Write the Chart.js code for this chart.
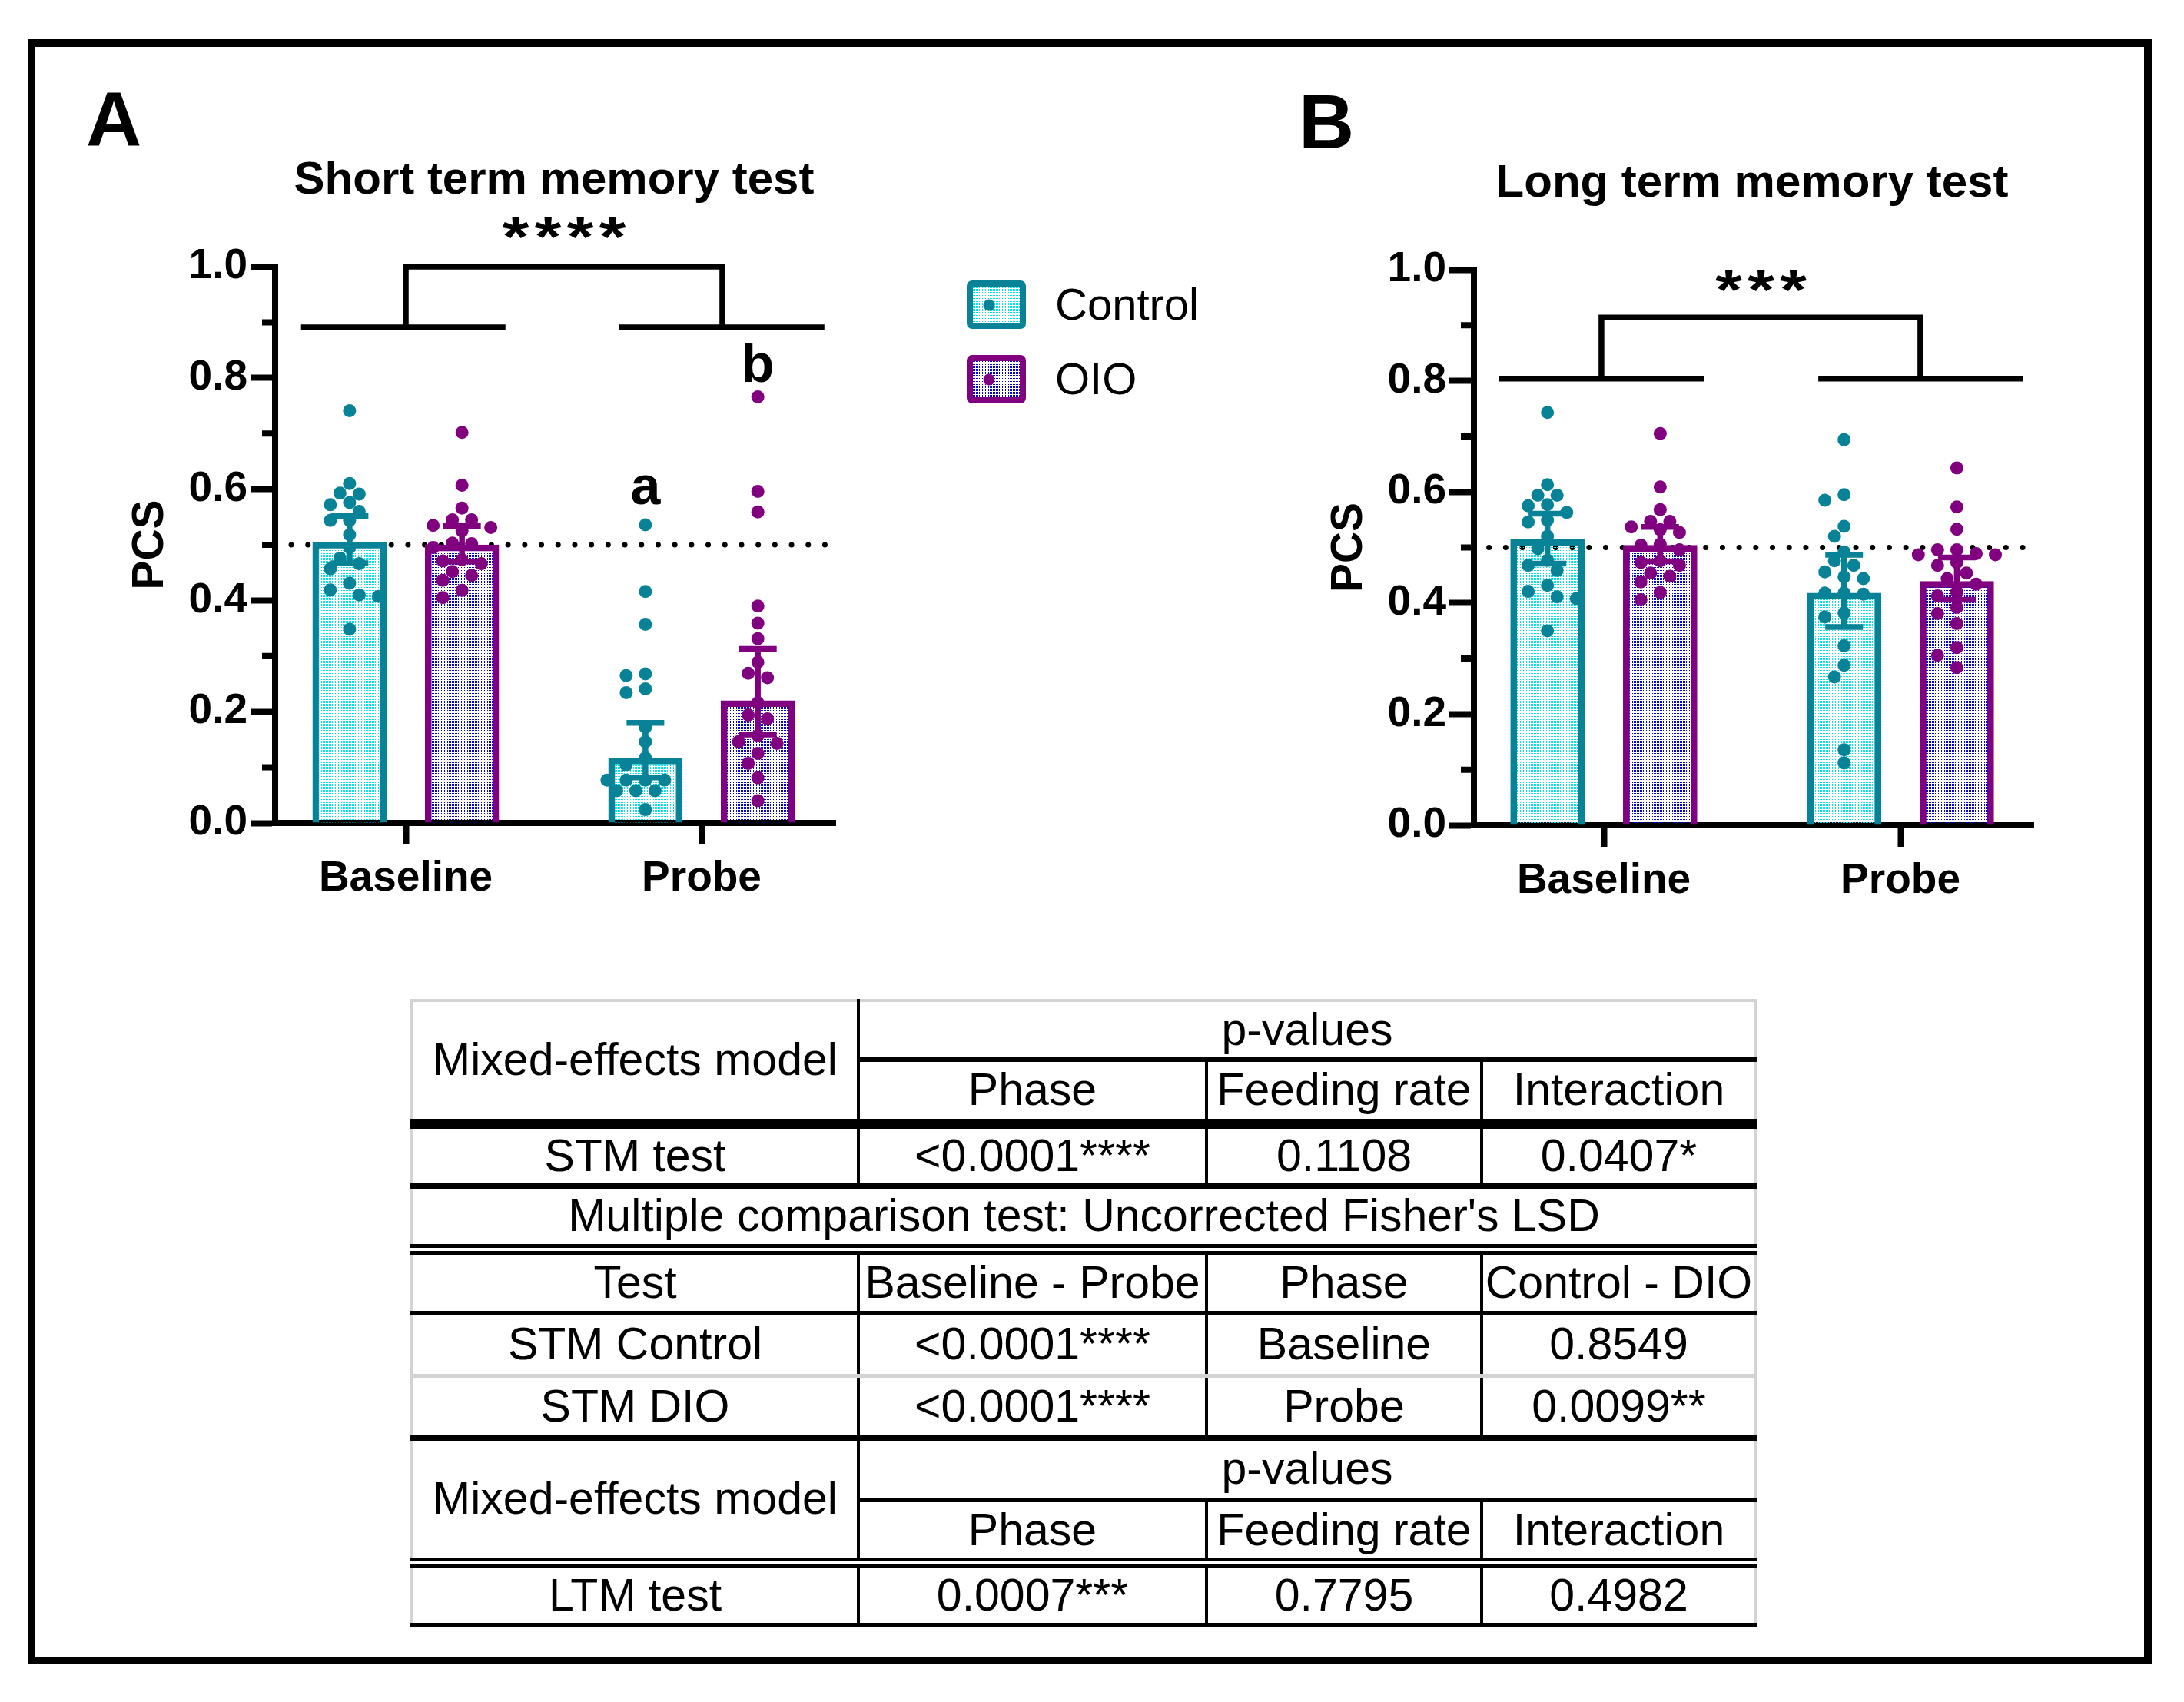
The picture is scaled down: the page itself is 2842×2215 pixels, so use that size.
<!DOCTYPE html>
<html>
<head>
<meta charset="utf-8">
<script src="https://cdn.jsdelivr.net/npm/chart.js@4.4.1/dist/chart.umd.min.js"></script>
<style>
  html, body { margin: 0; padding: 0; background: #fff; }
  body { width: 2842px; height: 2215px; position: relative; overflow: hidden; font-family: 'Liberation Sans', Arial, sans-serif; color: #000; }
  #frame { position: absolute; left: 36px; top: 51px; width: 2764px; height: 2115px; border: 10px solid #000; box-sizing: border-box; }
  canvas { position: absolute; }
  .letter { position: absolute; font-weight: bold; font-size: 100px; line-height: 1; }
  .title { position: absolute; font-weight: bold; font-size: 60px; line-height: 1; white-space: nowrap; transform: translateX(-50%); }
  #stats { position: absolute; left: 534px; top: 1300px; width: 1749px; border-collapse: collapse; table-layout: fixed;
           font-size: 59px; border-top: 4px solid #d3d3d3; border-left: 4px solid #d3d3d3; border-right: 4px solid #d3d3d3; }
  #stats td { padding: 0; text-align: center; vertical-align: middle; white-space: nowrap; overflow: visible; line-height: 1; }
  #stats .vr { border-right: 4px solid #000; }
  #stats .bt { border-bottom: 6px solid #000; }
  #stats .bm { border-bottom: 7px solid #000; }
  #stats .bk { border-bottom: 13px solid #000; }
  #stats .bd { border-bottom: 14px double #000; }
  #stats .bg { border-bottom: 5px solid #d3d3d3; }
</style>
</head>
<body>
<div id="frame"></div>
<div class="letter" style="left:112px;top:105px">A</div>
<div class="letter" style="left:1690px;top:108px">B</div>
<div class="title" style="left:721px;top:202px">Short term memory test</div>
<div class="title" style="left:2280px;top:206px">Long term memory test</div>
<canvas id="stm" width="1482" height="1061" style="left:158px;top:150px"></canvas>
<canvas id="ltm" width="948" height="1064" style="left:1718px;top:150px"></canvas>

<table id="stats">
  <colgroup><col style="width:581px"><col style="width:453px"><col style="width:358px"><col style="width:357px"></colgroup>
  <tr style="height:77px"><td rowspan="2" class="vr bk">Mixed-effects model</td><td colspan="3" class="bt">p-values</td></tr>
  <tr style="height:83px"><td class="vr bk">Phase</td><td class="vr bk">Feeding rate</td><td class="bk">Interaction</td></tr>
  <tr style="height:81px"><td class="vr bm">STM test</td><td class="vr bm">&lt;0.0001****</td><td class="vr bm">0.1108</td><td class="bm">0.0407*</td></tr>
  <tr style="height:83px"><td colspan="4" class="bd">Multiple comparison test: Uncorrected Fisher's LSD</td></tr>
  <tr style="height:83px"><td class="vr bt">Test</td><td class="vr bt">Baseline - Probe</td><td class="vr bt">Phase</td><td class="bt">Control - DIO</td></tr>
  <tr style="height:81px"><td class="vr bg">STM Control</td><td class="vr bg">&lt;0.0001****</td><td class="vr bg">Baseline</td><td class="bg">0.8549</td></tr>
  <tr style="height:81px"><td class="vr bm">STM DIO</td><td class="vr bm">&lt;0.0001****</td><td class="vr bm">Probe</td><td class="bm">0.0099**</td></tr>
  <tr style="height:81px"><td rowspan="2" class="vr bd">Mixed-effects model</td><td colspan="3" class="bt">p-values</td></tr>
  <tr style="height:82px"><td class="vr bd">Phase</td><td class="vr bd">Feeding rate</td><td class="bd">Interaction</td></tr>
  <tr style="height:81px"><td class="vr bt">LTM test</td><td class="vr bt">0.0007***</td><td class="vr bt">0.7795</td><td class="bt">0.4982</td></tr>
</table>

<script>
// categories
const phases = ['Baseline', 'Probe'];
const groups = ['Control', 'OIO'];
const yTicks = [0, 0.2, 0.4, 0.6, 0.8, 1.0];
const yMinorTicks = [0.1, 0.3, 0.5, 0.7, 0.9];

// short term memory test: bar heights and error bar ends (Baseline, Probe)
const stmBarControl = [0.505, 0.117];
const stmBarOio = [0.500, 0.220];
const stmLowControl = [0.467, 0.082];
const stmHighControl = [0.552, 0.180];
const stmLowOio = [0.470, 0.159];
const stmHighOio = [0.534, 0.313];

// short term memory test: individual animals
const stmControlBaseline = [0.741, 0.610, 0.593, 0.591, 0.576, 0.572, 0.560, 0.544, 0.544, 0.518, 0.495, 0.476, 0.466, 0.457, 0.431, 0.419, 0.410, 0.407, 0.348];
const stmControlProbe = [0.536, 0.416, 0.357, 0.268, 0.265, 0.241, 0.234, 0.172, 0.146, 0.117, 0.104, 0.077, 0.077, 0.077, 0.077, 0.058, 0.058, 0.058, 0.024];
const stmOioBaseline = [0.702, 0.607, 0.566, 0.545, 0.545, 0.535, 0.531, 0.525, 0.503, 0.502, 0.495, 0.473, 0.471, 0.466, 0.452, 0.445, 0.436, 0.418, 0.405];
const stmOioProbe = [0.766, 0.596, 0.559, 0.390, 0.359, 0.331, 0.289, 0.269, 0.261, 0.216, 0.194, 0.187, 0.157, 0.146, 0.143, 0.125, 0.107, 0.081, 0.040];

// long term memory test
const ltmBarControl = [0.514, 0.418];
const ltmBarOio = [0.504, 0.439];
const ltmLowControl = [0.471, 0.357];
const ltmHighControl = [0.561, 0.487];
const ltmLowOio = [0.475, 0.406];
const ltmHighOio = [0.537, 0.482];

const ltmControlBaseline = [0.743, 0.613, 0.594, 0.594, 0.577, 0.575, 0.563, 0.549, 0.546, 0.520, 0.498, 0.477, 0.468, 0.459, 0.432, 0.421, 0.411, 0.408, 0.350];
const ltmControlProbe = [0.694, 0.595, 0.585, 0.538, 0.520, 0.492, 0.476, 0.468, 0.456, 0.447, 0.444, 0.418, 0.418, 0.416, 0.382, 0.375, 0.323, 0.288, 0.267, 0.136, 0.112];
const ltmOioBaseline = [0.705, 0.609, 0.568, 0.547, 0.547, 0.537, 0.532, 0.527, 0.506, 0.504, 0.496, 0.476, 0.473, 0.468, 0.454, 0.448, 0.438, 0.419, 0.406];
const ltmOioProbe = [0.643, 0.573, 0.533, 0.496, 0.496, 0.489, 0.487, 0.487, 0.473, 0.468, 0.454, 0.444, 0.434, 0.420, 0.413, 0.392, 0.381, 0.363, 0.320, 0.306, 0.284];

const CONTROL = '#088296';
const OIO = '#800080';
const GROUP_OFFSET = 0.19;
const DOT_RADIUS = 8.5;
const FONT = "'Liberation Sans', Arial, sans-serif";

function makePattern(color) {
  const tile = document.createElement('canvas');
  tile.width = 2; tile.height = 2;
  const g = tile.getContext('2d');
  g.fillStyle = color;
  g.fillRect(0, 0, 1, 1);
  return g.createPattern(tile, 'repeat');
}
const fillControl = makePattern('#00e4ee');
const fillOio = makePattern('#0000c8');

// spread the dots sideways so they don't sit on top of each other
function swarm(values, center) {
  const PX_X = 385, PX_Y = 724, STEP = 12.5, DIAM = 16.5;
  const order = values.map((v, i) => i).sort((a, b) => values[b] - values[a]);
  const placed = [];
  const out = new Array(values.length);
  for (const i of order) {
    const py = values[i] * PX_Y;
    for (let k = 0; k < 30; k++) {
      const slot = k === 0 ? 0 : (k % 2 ? -Math.ceil(k / 2) : k / 2);
      const px = slot * STEP;
      if (placed.every(p => Math.hypot(p.x - px, p.y - py) >= DIAM)) {
        placed.push({x: px, y: py});
        out[i] = {x: center + px / PX_X, y: values[i]};
        break;
      }
    }
  }
  return out;
}

function makeOverlay(cfg) {
  return {
    id: 'overlay',
    beforeDatasetsDraw(chart) {
      const {ctx, scales: {x, y}} = chart;
      ctx.save();
      ctx.strokeStyle = '#000';
      ctx.lineWidth = 7;
      ctx.lineCap = 'round';
      ctx.setLineDash([0.001, 21.7]);
      ctx.beginPath();
      ctx.moveTo(x.getPixelForValue(0.613), y.getPixelForValue(0.5));
      ctx.lineTo(x.getPixelForValue(2.421), y.getPixelForValue(0.5));
      ctx.stroke();
      ctx.restore();
    },
    afterDatasetsDraw(chart) {
      const {ctx, scales: {x, y}} = chart;
      ctx.save();
      ctx.lineWidth = 7.5;
      ctx.lineCap = 'butt';
      cfg.errors.forEach(e => {
        const px = x.getPixelForValue(e.x);
        const lo = y.getPixelForValue(e.low), hi = y.getPixelForValue(e.high);
        ctx.strokeStyle = e.color;
        ctx.beginPath();
        ctx.moveTo(px, lo); ctx.lineTo(px, hi);
        ctx.moveTo(px - 24.5, lo); ctx.lineTo(px + 24.5, lo);
        ctx.moveTo(px - 24.5, hi); ctx.lineTo(px + 24.5, hi);
        ctx.stroke();
      });
      ctx.restore();
    },
    afterDraw(chart) {
      const {ctx, chartArea, scales: {x, y}} = chart;
      ctx.save();
      // minor ticks
      ctx.strokeStyle = '#000';
      ctx.lineWidth = 8;
      ctx.beginPath();
      yMinorTicks.forEach(v => {
        const py = y.getPixelForValue(v);
        ctx.moveTo(chartArea.left - 17, py);
        ctx.lineTo(chartArea.left, py);
      });
      ctx.stroke();
      // bracket
      const b = cfg.bracket;
      const X = v => x.getPixelForValue(v), Y = v => y.getPixelForValue(v);
      ctx.lineWidth = 7.5;
      ctx.lineCap = 'butt';
      ctx.lineJoin = 'miter';
      ctx.beginPath();
      ctx.moveTo(X(b.left[0]), Y(b.low)); ctx.lineTo(X(b.left[1]), Y(b.low));
      ctx.moveTo(X(b.right[0]), Y(b.low)); ctx.lineTo(X(b.right[1]), Y(b.low));
      ctx.moveTo(X(b.stems[0]), Y(b.low));
      ctx.lineTo(X(b.stems[0]), Y(b.high));
      ctx.lineTo(X(b.stems[1]), Y(b.high));
      ctx.lineTo(X(b.stems[1]), Y(b.low));
      ctx.stroke();
      // stars
      ctx.fillStyle = '#000';
      ctx.font = 'bold 72px ' + FONT;
      ctx.textAlign = 'center';
      ctx.textBaseline = 'alphabetic';
      const sx = X((b.stems[0] + b.stems[1]) / 2), sy = Y(cfg.starsAt);
      for (let k = 0; k < cfg.stars.length; k++) {
        ctx.save();
        ctx.translate(sx + (k - (cfg.stars.length - 1) / 2) * 42, sy + 38);
        ctx.scale(1.25, 1);
        ctx.fillText('*', 0, 0);
        ctx.restore();
      }
      // letters over bars
      ctx.font = 'bold 70px ' + FONT;
      cfg.letters.forEach(l => ctx.fillText(l.text, X(l.x), Y(l.y)));
      // legend
      if (cfg.legend) {
        chart.data.datasets.filter(d => d.type === 'bar').forEach((d, i) => {
          const bx = chartArea.right + 171, by = chartArea.top + 18 + i * 97;
          ctx.fillStyle = d.backgroundColor;
          ctx.fillRect(bx + 4, by + 4, 69, 55);
          ctx.strokeStyle = d.borderColor;
          ctx.lineWidth = 8;
          ctx.beginPath();
          ctx.roundRect(bx + 4, by + 4, 69, 55, 3);
          ctx.stroke();
          ctx.fillStyle = d.borderColor;
          ctx.beginPath();
          ctx.arc(bx + 29, by + 32, 7.5, 0, Math.PI * 2);
          ctx.fill();
          ctx.fillStyle = '#000';
          ctx.font = '58px ' + FONT;
          ctx.textAlign = 'left';
          ctx.fillText(d.label, bx + 115, by + 51);
        });
      }
      ctx.restore();
    }
  };
}

function buildChart(id, s) {
  const ctrlX = phases.map((p, i) => i + 1 - GROUP_OFFSET);
  const oioX = phases.map((p, i) => i + 1 + GROUP_OFFSET);
  const barSet = (label, vals, xs, fill, stroke) => ({
    type: 'bar', label, data: vals.map((v, i) => ({x: xs[i], y: v})),
    backgroundColor: fill, borderColor: stroke, borderWidth: 8, borderSkipped: 'start',
    barThickness: 96, grouped: false, order: 3
  });
  const dotSet = (vals, cx, color) => ({
    type: 'scatter', data: swarm(vals, cx), backgroundColor: color,
    pointRadius: DOT_RADIUS, borderWidth: 0, order: 1
  });
  const errors = [];
  phases.forEach((p, i) => {
    errors.push({x: ctrlX[i], low: s.lowControl[i], high: s.highControl[i], color: CONTROL});
    errors.push({x: oioX[i], low: s.lowOio[i], high: s.highOio[i], color: OIO});
  });
  return new Chart(document.getElementById(id), {
    type: 'bar',
    data: {
      datasets: [
        barSet(groups[0], s.barControl, ctrlX, fillControl, CONTROL),
        barSet(groups[1], s.barOio, oioX, fillOio, OIO),
        ...phases.map((p, i) => dotSet(s.dotsControl[i], ctrlX[i], CONTROL)),
        ...phases.map((p, i) => dotSet(s.dotsOio[i], oioX[i], OIO))
      ]
    },
    options: {
      responsive: false,
      animation: false,
      devicePixelRatio: 1,
      events: [],
      layout: {padding: s.padding},
      plugins: {legend: {display: false}, tooltip: {enabled: false}},
      scales: {
        x: {
          type: 'linear', min: s.xMin, max: s.xMax, offset: false,
          afterBuildTicks: sc => { sc.ticks = phases.map((p, i) => ({value: i + 1})); },
          afterFit: sc => { sc.height = 140; },
          ticks: {
            autoSkip: false, maxRotation: 0, padding: 12, color: '#000',
            font: {family: FONT, size: 55, weight: 'bold'},
            callback: v => phases[Math.round(v) - 1]
          },
          grid: {drawOnChartArea: false, drawTicks: true, tickLength: 28, tickWidth: 8, tickColor: '#000', offset: false},
          border: {display: true, width: 8, color: '#000'}
        },
        y: {
          min: 0, max: 1,
          afterBuildTicks: sc => { sc.ticks = yTicks.map(v => ({value: v})); },
          afterFit: sc => { sc.width = 200; },
          ticks: {
            padding: 4, color: '#000',
            font: {family: FONT, size: 55, weight: 'bold'},
            callback: v => v.toFixed(1)
          },
          grid: {drawOnChartArea: false, drawTicks: true, tickLength: 32, tickWidth: 8, tickColor: '#000'},
          border: {display: true, width: 8, color: '#000'},
          title: {display: true, text: 'PCS', color: '#000', padding: {top: 4, bottom: 0},
                  font: {family: FONT, size: 57, weight: 'bold'}}
        }
      }
    },
    plugins: [makeOverlay({
      errors,
      bracket: s.bracket,
      stars: s.stars,
      starsAt: s.starsAt,
      letters: s.letters,
      legend: s.legend
    })]
  });
}

buildChart('stm', {
  barControl: stmBarControl, barOio: stmBarOio,
  lowControl: stmLowControl, highControl: stmHighControl,
  lowOio: stmLowOio, highOio: stmHighOio,
  dotsControl: [stmControlBaseline, stmControlProbe],
  dotsOio: [stmOioBaseline, stmOioProbe],
  xMin: 0.5584, xMax: 2.4519,
  padding: {top: 197, right: 553, left: 0, bottom: 0},
  bracket: {low: 0.891, high: 1.0, left: [0.646, 1.337], right: [1.722, 2.415], stems: [1.0, 2.07]},
  stars: '****', starsAt: 1.072,
  letters: [{text: 'a', x: 2 - GROUP_OFFSET, y: 0.573}, {text: 'b', x: 2 + GROUP_OFFSET, y: 0.793}],
  legend: true
});

buildChart('ltm', {
  barControl: ltmBarControl, barOio: ltmBarOio,
  lowControl: ltmLowControl, highControl: ltmHighControl,
  lowOio: ltmLowOio, highOio: ltmHighOio,
  dotsControl: [ltmControlBaseline, ltmControlProbe],
  dotsOio: [ltmOioBaseline, ltmOioProbe],
  xMin: 0.5622, xMax: 2.448,
  padding: {top: 201, right: 20, left: 0, bottom: 0},
  bracket: {low: 0.804, high: 0.914, left: [0.647, 1.339], right: [1.723, 2.412], stems: [0.992, 2.067]},
  stars: '***', starsAt: 0.982,
  letters: [],
  legend: false
});
</script>
</body>
</html>
